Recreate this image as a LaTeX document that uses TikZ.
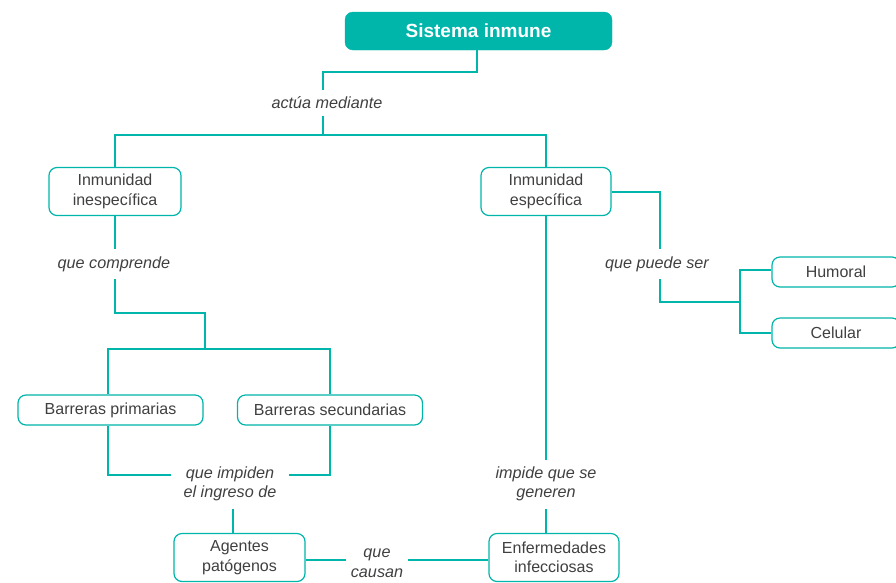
\documentclass[tikz,border=0pt]{standalone}
\usepackage{fontspec}
\setmainfont{Liberation Sans}
\definecolor{tealc}{RGB}{0,181,170}
\definecolor{txt}{RGB}{64,64,64}
\begin{document}
\begin{tikzpicture}[x=1pt,y=-1pt,
  conn/.style={draw=tealc, line width=1.8pt},
  box/.style={draw=tealc, line width=1.2pt, rounded corners=8pt, fill=white, text=txt,
    font=\fontsize{16}{19.5}\selectfont, align=center, inner sep=0pt},
  lbl/.style={text=txt, font=\itshape\fontsize{16.2}{19.5}\selectfont, align=center,
    inner xsep=12pt, inner ysep=7pt},
]
\useasboundingbox (0,0) rectangle (896,582);
\clip (0,0) rectangle (896,582);

% nodes
\node[fill=tealc, draw=tealc, rounded corners=8pt, text=white,
  font=\bfseries\fontsize{19}{22}\selectfont, minimum width=267pt, minimum height=38pt, inner sep=0pt]
  (top) at (478.5,31) {Sistema inmune};
\node[box, minimum width=132pt, minimum height=48pt] (ines) at (115,191.5) {Inmunidad\\inespecífica};
\node[box, minimum width=130pt, minimum height=48pt] (espe) at (546,191.5) {Inmunidad\\específica};
\node[box, minimum width=185pt, minimum height=30pt] (prim) at (110.5,410) {Barreras primarias};
\node[box, minimum width=185pt, minimum height=30pt] (sec) at (330,410) {Barreras secundarias};
\node[box, minimum width=131pt, minimum height=48pt] (ag) at (239.5,557.5) {Agentes\\patógenos};
\node[box, minimum width=130pt, minimum height=48pt] (enf) at (554,557.5) {Enfermedades\\infecciosas};
\node[box, minimum width=128pt, minimum height=30pt] (hum) at (836,272) {Humoral};
\node[box, minimum width=128pt, minimum height=30pt] (cel) at (836,333) {Celular};

% labels
\node[lbl] (lact) at (327,103) {actúa mediante};
\node[lbl] (lcomp) at (114,264) {que comprende};
\node[lbl] (limp) at (230,484) {que impiden\\el ingreso de};
\node[lbl] (limpd) at (546,484) {impide que se\\generen};
\node[lbl, inner xsep=5pt] (lcau) at (377,563) {que\\causan};
\node[lbl] (lpue) at (657,264) {que puede ser};

% junction coordinates
\coordinate (j1) at (323,72);
\coordinate (j2) at (323,135);
\coordinate (j3) at (115,313);
\coordinate (j4) at (205,313);
\coordinate (j5) at (205,349);
\coordinate (j6) at (660,192);
\coordinate (j7) at (660,302);
\coordinate (j8) at (740,302);
\coordinate (yl) at (0,475);
\coordinate (yc) at (0,560);
\coordinate (x233) at (233,0);
\coordinate (x108) at (108,0);
\coordinate (x740) at (740,0);

% connectors
\draw[conn] (top.south -| 477,0) |- (j1) -- (j1 |- lact.north);
\draw[conn] (j1 |- lact.south) -- (j2);
\draw[conn] (ines.north) |- (j2) -| (espe.north);
\draw[conn] (ines.south) -- (ines.south |- lcomp.north);
\draw[conn] (ines.south |- lcomp.south) -- (j3) -- (j4) -- (j5);
\draw[conn] (prim.north -| x108) |- (j5) -| (sec.north);
\draw[conn] (prim.south -| x108) |- (limp.west |- yl);
\draw[conn] (sec.south) |- (limp.east |- yl);
\draw[conn] (limp.south -| x233) -- (ag.north -| x233);
\draw[conn] (espe.south) -- (espe.south |- limpd.north);
\draw[conn] (espe.south |- limpd.south) -- (enf.north -| espe.south);
\draw[conn] (ag.east |- yc) -- (lcau.west |- yc);
\draw[conn] (lcau.east |- yc) -- (enf.west |- yc);
\draw[conn] (espe.east |- j6) -- (j6) -- (j6 |- lpue.north);
\draw[conn] (j7 |- lpue.south) -- (j7) -- (j8);
\draw[conn] (hum.west |- 0,270) -| (x740 |- cel.west) -- (cel.west);
\end{tikzpicture}
\end{document}
